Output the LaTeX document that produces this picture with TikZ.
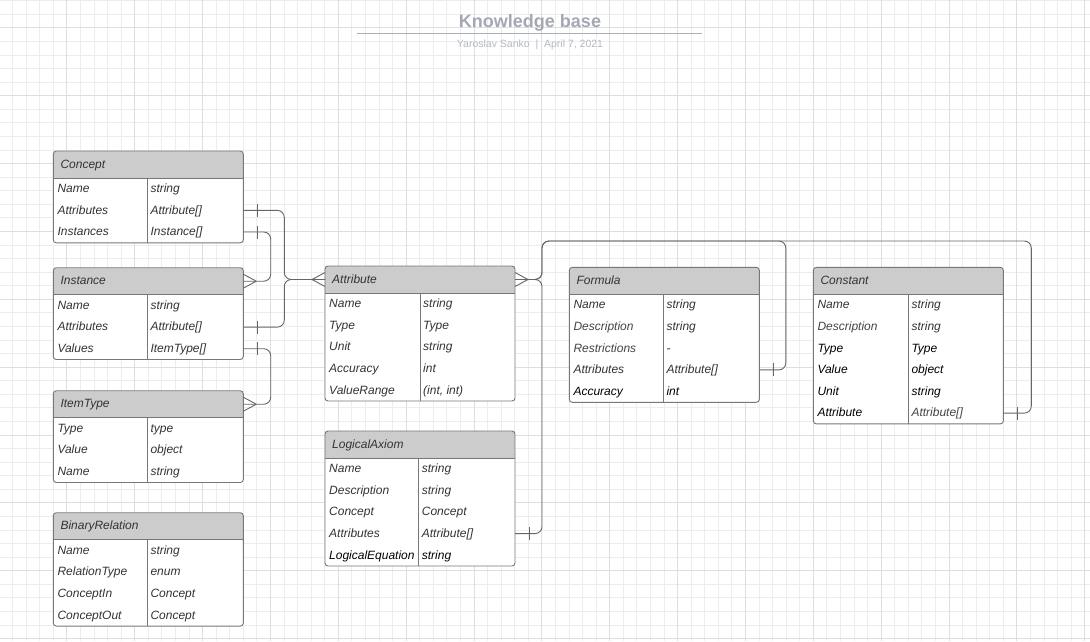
\documentclass[tikz,border=0pt]{standalone}
\usepackage{fontspec}
\setmainfont{Liberation Sans}
\usetikzlibrary{calc}
\definecolor{gridminor}{HTML}{EDEDED}
\definecolor{gridmajor}{HTML}{DEDEDE}
\definecolor{hdrfill}{HTML}{CCCCCC}
\definecolor{boxline}{HTML}{777777}
\definecolor{connline}{HTML}{666666}
\definecolor{txt}{HTML}{333333}
\definecolor{txtl}{HTML}{444444}
\definecolor{txtk}{HTML}{000000}
\definecolor{titlegray}{HTML}{A3A8B3}
\definecolor{subgray}{HTML}{B5B9C2}
\definecolor{titleline}{HTML}{A9AEB9}
\tikzset{
  entbox/.style={fill=white, rounded corners=3pt, inner sep=0pt, outer sep=0pt},
  outline/.style={draw=boxline, line width=0.9pt},
  rowtxt/.style={font=\fontsize{12}{14}\selectfont\itshape, inner sep=0pt, text height=8.6pt, text depth=2.4pt},
  hdrtxt/.style={font=\fontsize{12}{14}\selectfont\itshape, text=txt, inner sep=0pt, text height=8.6pt, text depth=2.4pt},
  conn/.style={draw=connline, line width=0.9pt},
}
% #1 id, #2 x, #3 y, #4 rows, #5 divider x, #6 title, #7 rows list
\newcommand{\entity}[7]{%
  \pgfmathsetmacro{\entH}{27+#4*21.6}
  \node[entbox, anchor=north west, minimum width=190pt, minimum height=\entH pt] (#1) at (#2,#3) {};
  \begin{scope}
    \clip[rounded corners=3pt] (#1.north west) rectangle (#1.south east);
    \fill[hdrfill] (#1.north west) rectangle ([yshift=-27pt]#1.north east);
  \end{scope}
  \draw[outline] ([yshift=-27pt]#1.north west) -- ([yshift=-27pt]#1.north east);
  \draw[outline] (#5,#3+27) -- (#5,#3+\entH);
  \draw[outline, rounded corners=3pt] (#1.north west) rectangle (#1.south east);
  \node[hdrtxt, anchor=west] (#1-title) at (#2+7,#3+14) {#6};
  \coordinate (#1-hw) at (#2,#3+13.5);
  \coordinate (#1-he) at (#2+190,#3+13.5);
  \foreach \k/\v/\ca/\cb [count=\i] in {#7} {
    \pgfmathsetmacro{\ry}{#3+27+(\i-0.5)*21.6}
    \node[rowtxt, text=\ca, anchor=west] (#1-\i-k) at (#2+4,\ry+0.7) {\k};
    \node[rowtxt, text=\cb, anchor=west] (#1-\i-v) at (#5+3,\ry+0.7) {\v};
    \coordinate (#1-\i-w) at (#2,\ry);
    \coordinate (#1-\i-e) at (#2+190,\ry);
  }
}
\newcommand{\crowleft}[1]{\draw[conn] ($(#1)+(-13,0)$) -- ($(#1)+(0,-7)$) ($(#1)+(-13,0)$) -- ($(#1)+(0,7)$);}
\newcommand{\crowright}[1]{\draw[conn] ($(#1)+(13,0)$) -- ($(#1)+(0,-7)$) ($(#1)+(13,0)$) -- ($(#1)+(0,7)$);}
\newcommand{\barat}[1]{\draw[conn] ($(#1)+(14,-6.5)$) -- ($(#1)+(14,6.5)$);}
\begin{document}
\begin{tikzpicture}[x=1pt,y=-1pt]
\useasboundingbox (0,0) rectangle (1090,641);
\fill[white] (0,0) rectangle (1090,641);
% grid
\foreach \i in {0,...,81} {
  \pgfmathsetmacro{\gx}{-1+13.57*\i}
  \draw[gridminor, line width=0.8pt] (\gx,0) -- (\gx,641);
}
\foreach \i in {0,...,47} {
  \pgfmathsetmacro{\gy}{0.7+13.57*\i}
  \draw[gridminor, line width=0.8pt] (0,\gy) -- (1090,\gy);
}
\foreach \i in {0,...,16} {
  \pgfmathsetmacro{\gx}{-1+67.85*\i}
  \draw[gridmajor, line width=0.8pt] (\gx,0) -- (\gx,641);
}
\foreach \i in {0,...,9} {
  \pgfmathsetmacro{\gy}{27.84+67.85*\i}
  \draw[gridmajor, line width=0.8pt] (0,\gy) -- (1090,\gy);
}
% title
\node[font=\bfseries\fontsize{18}{20}\selectfont, text=titlegray, inner sep=0pt] (title) at (530,22.5) {Knowledge base};
\coordinate (tl1) at (357,33.3);
\coordinate (tl2) at (702,33.3);
\draw[titleline, line width=1.3pt] (tl1) -- (tl2);
\node[font=\fontsize{10.5}{12}\selectfont, text=subgray, inner sep=0pt] (subtitle) at (530,45.3) {Yaroslav Sanko \ |\ \ April 7, 2021};
% entities
\entity{concept}{53.3}{151}{3}{147.3}{Concept}{Name/string/txt/txt, Attributes/{Attribute[]}/txt/txt, Instances/{Instance[]}/txt/txt}
\entity{instance}{53.3}{267.7}{3}{147.3}{Instance}{Name/string/txt/txt, Attributes/{Attribute[]}/txt/txt, Values/{ItemType[]}/txt/txt}
\entity{itemtype}{53.3}{390.7}{3}{147.3}{ItemType}{Type/type/txt/txt, Value/object/txt/txt, Name/string/txt/txt}
\entity{binrel}{53.3}{512.7}{4}{147.3}{BinaryRelation}{Name/string/txt/txt, RelationType/enum/txt/txt, ConceptIn/Concept/txt/txt, ConceptOut/Concept/txt/txt}
\entity{attribute}{325}{266}{5}{420}{Attribute}{Name/string/txt/txt, Type/Type/txt/txt, Unit/string/txt/txt, Accuracy/int/txt/txt, ValueRange/{(int, int)}/txt/txt}
\entity{logaxiom}{325}{431}{5}{418.7}{LogicalAxiom}{Name/string/txt/txt, Description/string/txt/txt, Concept/Concept/txt/txt, Attributes/{Attribute[]}/txt/txt, LogicalEquation/string/txtk/txtk}
\entity{formula}{569.3}{267.3}{5}{663.3}{Formula}{Name/string/txt/txt, Description/string/txtl/txt, Restrictions/-/txtl/txt, Attributes/{Attribute[]}/txt/txt, Accuracy/int/txtk/txtk}
\entity{constant}{813.3}{267.3}{6}{908.3}{Constant}{Name/string/txt/txt, Description/string/txtl/txt, Type/Type/txtk/txtk, Value/object/txtk/txtk, Unit/string/txtk/txtk, Attribute/{Attribute[]}/txtk/txtl}
% connectors left
\draw[conn, rounded corners=7pt] (concept-2-e) -- ++(41,0) |- (attribute-hw);
\draw[conn, rounded corners=7pt] (instance-2-e) -- ++(41,0) |- (attribute-hw);
\draw[conn, rounded corners=7pt] (concept-3-e) -- ++(27.4,0) |- (instance-he);
\draw[conn, rounded corners=7pt] (instance-3-e) -- ++(27.4,0) |- (itemtype-he);
\barat{concept-2-e}
\barat{instance-2-e}
\barat{concept-3-e}
\barat{instance-3-e}
\crowleft{attribute-hw}
\crowright{instance-he}
\crowright{itemtype-he}
% connectors right
\draw[conn, rounded corners=7pt] (attribute-he) -- ++(27,0) -- ++(0,-38.5) -| ($(constant-6-e)+(28,0)$) -- (constant-6-e);
\draw[conn, rounded corners=7pt] (attribute-he) -- ++(27,0) -- ++(0,-38.5) -| ($(formula-4-e)+(26.5,0)$) -- (formula-4-e);
\draw[conn, rounded corners=7pt] (attribute-he) -- ++(27,0) |- (logaxiom-4-e);
\crowright{attribute-he}
\barat{formula-4-e}
\barat{logaxiom-4-e}
\barat{constant-6-e}
\end{tikzpicture}
\end{document}
